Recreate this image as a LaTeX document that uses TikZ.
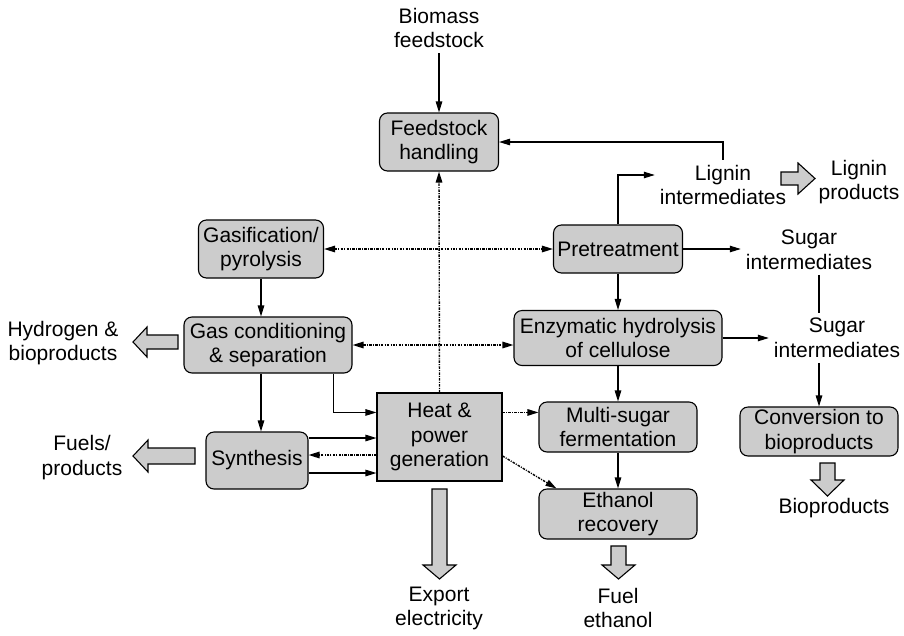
\documentclass[tikz,border=0pt]{standalone}
\usepackage{fontspec}
\setmainfont{Liberation Sans}
\usetikzlibrary{arrows.meta}

\begin{document}
\begin{tikzpicture}[x=1pt,y=-1pt,
        font=\fontsize{21}{24.5}\selectfont,
        >={Triangle[length=11pt,width=6.5pt]},
        box/.style={draw,line width=1.1pt,fill=black!20,rounded corners=8pt,align=center,inner sep=0pt},
        plant/.style={draw,line width=1.1pt,fill=black!20,align=center,inner sep=0pt},
        txt/.style={align=center,inner sep=5pt},
        flow/.style={line width=1.1pt,->},
        util/.style={line width=1.4pt,dash pattern=on 2.5pt off 1.2pt on 1pt off 1.2pt},
        fat/.style={line width=1.1pt,fill=black!20,line join=miter}]
            \useasboundingbox (0,0) rectangle (904,635);

            \node[txt] (biomass) at (439,28) {Biomass\\feedstock};
            \node[box,minimum width=119pt,minimum height=58pt] (feed) at (439,142) {Feedstock\\handling};
            \node[box,minimum width=125pt,minimum height=58pt] (gasif) at (261,249) {Gasification/\\pyrolysis};
            \node[box,minimum width=129pt,minimum height=48pt] (pretreat) at (618,249) {Pretreatment};
            \node[txt] (lignin) at (723,185) {Lignin\\intermediates};
            \node[txt] (ligprod) at (859,182) {Lignin\\products};
            \node[txt] (sugarA) at (809,250) {Sugar\\intermediates};
            \node[box,minimum width=168pt,minimum height=56pt] (gascond) at (268,345) {Gas conditioning\\\& separation};
            \node[box,minimum width=208pt,minimum height=55pt] (enzyme) at (618,338) {Enzymatic hydrolysis\\of cellulose};
            \node[txt] (sugarB) at (837,338) {Sugar\\intermediates};
            \node[txt] (hydrogen) at (63,343) {Hydrogen \&\\bioproducts};
            \node[plant,minimum width=125pt,minimum height=88pt] (heat) at (439.5,437) {Heat \&\\power\\generation};
            \node[box,minimum width=102pt,minimum height=57pt] (synth) at (257,460.5) {Synthesis};
            \node[txt] (fuels) at (82,457.5) {Fuels/\\products};
            \node[box,minimum width=158pt,minimum height=50pt] (ferment) at (618,427) {Multi-sugar\\fermentation};
            \node[box,minimum width=158pt,minimum height=50pt] (recovery) at (618,514) {Ethanol\\recovery};
            \node[box,minimum width=158pt,minimum height=49pt] (convert) at (819,431.5) {Conversion to\\bioproducts};
            \node[txt] (bioprod) at (834,508) {Bioproducts};
            \node[txt] (export) at (439,608.5) {Export\\electricity};
            \node[txt] (fuelEth) at (618,608) {Fuel\\ethanol};

            \draw[flow] (biomass.south) -- (feed.north);
            \draw[flow] (lignin.north) |- (feed.east);
            \draw[flow] (pretreat.north) |- ([yshift=10pt]lignin.west);
            \draw[flow] (pretreat.east) -- (pretreat.east -| sugarA.west);
            \draw[line width=1.1pt] ([xshift=10pt]sugarA.south) -- ([xshift=10pt]sugarA.south |- sugarB.north);
            \draw[flow] (enzyme.east) -- (enzyme.east -| sugarB.west);
            \draw[flow] (sugarB.south -| convert.north) -- (convert.north);
            \draw[flow] (pretreat.south) -- (enzyme.north);
            \draw[flow] (enzyme.south) -- (ferment.north);
            \draw[flow] (ferment.south) -- (recovery.north);

            \draw[flow] (gasif.south) -- (gasif.south |- gascond.north);
            \draw[flow] (gasif.south |- gascond.south) -- (gasif.south |- synth.north);
            \draw[flow] ([xshift=-19pt]gascond.south east) |- ([yshift=-20pt]heat.north west);
            \draw[flow] ([yshift=22.5pt]synth.east) -- ([yshift=22.5pt]synth.east -| heat.west);
            \draw[util,->] ([yshift=5.5pt]synth.east -| heat.west) -- ([yshift=5.5pt]synth.east);
            \draw[flow] ([yshift=-12.5pt]synth.east) -- ([yshift=-12.5pt]synth.east -| heat.west);

            \draw[util,<->] (gasif.east) -- (gasif.east -| pretreat.west);
            \draw[util,<->] (gascond.east) -- (gascond.east -| enzyme.west);
            \draw[util,->] (heat.north) -- (feed.south);
            \draw[util,->] ([yshift=-20pt]heat.north east) -- ([yshift=-20pt]heat.north east -| ferment.west);
            \draw[util,->] ([yshift=-19pt]heat.east) -- ([xshift=18pt]recovery.north west);

            \draw[fat] (781,172) -- (798,172) -- (798,163) -- (815,178.5) -- (798,194) -- (798,185) -- (781,185) -- cycle;
            \draw[fat] (178,335) -- (147,335) -- (147,327) -- (133,342) -- (147,357) -- (147,349) -- (178,349) -- cycle;
            \draw[fat] (195,448) -- (148,448) -- (148,440) -- (133,456) -- (148,472) -- (148,464) -- (195,464) -- cycle;
            \draw[fat] (432,489) -- (432,565) -- (423,565) -- (439.5,579) -- (456,565) -- (447,565) -- (447,489) -- cycle;
            \draw[fat] (611,546) -- (611,565) -- (602,565) -- (618.5,579) -- (635,565) -- (626,565) -- (626,546) -- cycle;
            \draw[fat] (820,463) -- (820,480) -- (811,480) -- (827.5,496) -- (844,480) -- (835,480) -- (835,463) -- cycle;
        \end{tikzpicture}
\end{document}
